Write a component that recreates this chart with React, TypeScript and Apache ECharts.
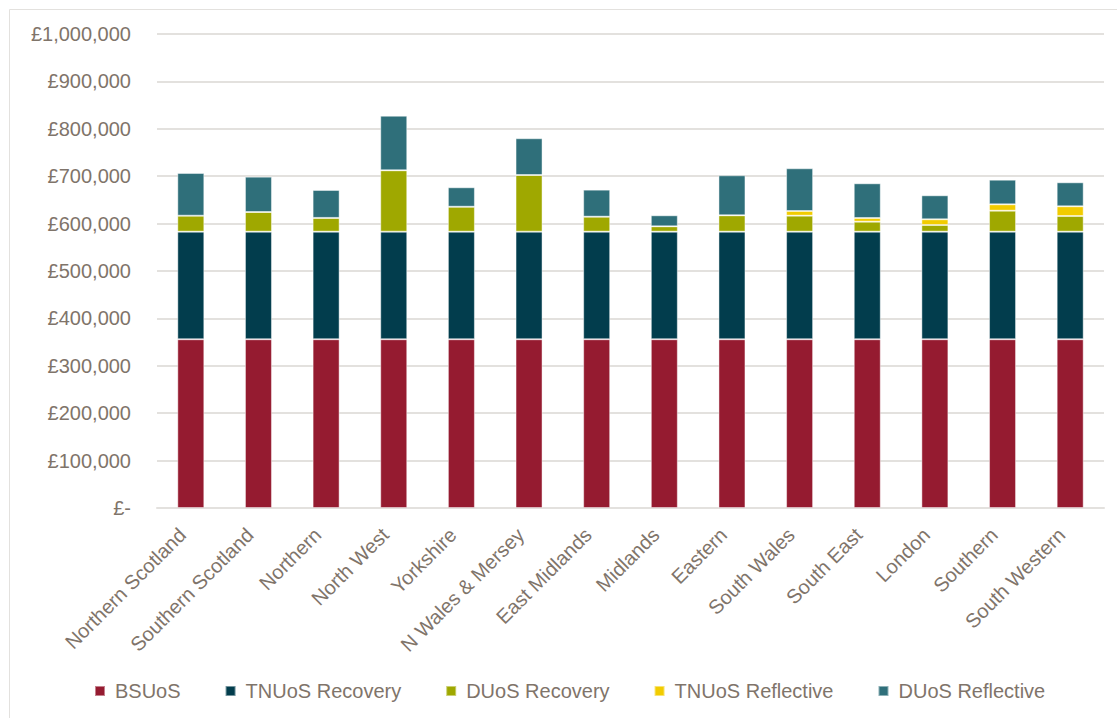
import React, { useEffect, useRef } from "react";
import * as echarts from "echarts";

const regions = [
  "Northern Scotland",
  "Southern Scotland",
  "Northern",
  "North West",
  "Yorkshire",
  "N Wales & Mersey",
  "East Midlands",
  "Midlands",
  "Eastern",
  "South Wales",
  "South East",
  "London",
  "Southern",
  "South Western",
];

const bsuos = [356000, 356000, 356000, 356000, 356000, 356000, 356000, 356000, 356000, 356000, 356000, 356000, 356000, 356000];
const tnuosRecovery = [227000, 227000, 227000, 227000, 227000, 227000, 227000, 227000, 227000, 227000, 227000, 227000, 227000, 227000];
const duosRecovery = [33700, 41500, 29000, 129400, 52600, 119500, 31600, 11300, 34500, 33700, 21000, 14000, 44200, 33000];
const tnuosReflective = [0, 0, 0, 0, 0, 0, 0, 0, 0, 9900, 7800, 12100, 13500, 20500];
const duosReflective = [90000, 74500, 58900, 115200, 41000, 77500, 57000, 23200, 84400, 90100, 73200, 50600, 51900, 50600];

const seriesDefs = [
  { name: "BSUoS", data: bsuos, color: "#951B30" },
  { name: "TNUoS Recovery", data: tnuosRecovery, color: "#023D4D" },
  { name: "DUoS Recovery", data: duosRecovery, color: "#9FA800" },
  { name: "TNUoS Reflective", data: tnuosReflective, color: "#F2CC00" },
  { name: "DUoS Reflective", data: duosReflective, color: "#2F6F7A" },
];

const TEXT = "#7F746A";
const FONT = "'Liberation Sans', Arial, sans-serif";

function formatPounds(v: number): string {
  if (v === 0) return "£-";
  return "£" + v.toLocaleString("en-GB");
}

export default function App() {
  const ref = useRef<HTMLDivElement>(null);

  useEffect(() => {
    if (!ref.current) return;
    const chart = echarts.init(ref.current, undefined, { renderer: "svg" });
    chart.setOption({
      animation: false,
      backgroundColor: "#ffffff",
      textStyle: { fontFamily: FONT },
      graphic: [
        {
          type: "line",
          shape: { x1: 9.5, y1: 9.5, x2: 1117, y2: 9.5 },
          style: { stroke: "#E3E1DE", lineWidth: 1 },
          silent: true,
        },
        {
          type: "line",
          shape: { x1: 9.5, y1: 9.5, x2: 9.5, y2: 718 },
          style: { stroke: "#E3E1DE", lineWidth: 1 },
          silent: true,
        },
      ],
      grid: { left: 157, right: 13, top: 34, bottom: 210, containLabel: false },
      legend: {
        bottom: 12,
        left: 89,
        icon: "rect",
        itemWidth: 10,
        itemHeight: 10,
        itemGap: 44,
        textStyle: { color: TEXT, fontSize: 20, fontFamily: FONT, padding: [0, 0, 0, 5] },
        data: seriesDefs.map((s) => s.name),
      },
      xAxis: {
        type: "category",
        data: regions,
        axisLine: { show: true, lineStyle: { color: "#E3E1DE", width: 2 } },
        axisTick: { show: false },
        axisLabel: {
          rotate: 45,
          interval: 0,
          margin: 15,
          padding: [0, 12, 0, 0],
          color: TEXT,
          fontSize: 20,
          fontFamily: FONT,
        },
      },
      yAxis: {
        type: "value",
        min: 0,
        max: 1000000,
        interval: 100000,
        axisLine: { show: false },
        axisTick: { show: false },
        splitLine: { lineStyle: { color: "#E3E1DE", width: 2 } },
        axisLabel: {
          margin: 26,
          color: TEXT,
          fontSize: 20,
          fontFamily: FONT,
          formatter: (v: number) => formatPounds(v),
        },
      },
      series: seriesDefs.map((s) => ({
        name: s.name,
        type: "bar",
        stack: "total",
        data: s.data,
        barWidth: 27,
        itemStyle: {
          color: s.color,
          borderColor: "rgba(255,255,255,0.45)",
          borderWidth: 1,
        },
      })),
    });
    return () => chart.dispose();
  }, []);

  return (
    <div
      ref={ref}
      style={{ position: "absolute", left: 0, top: 0, width: 1117, height: 718 }}
    />
  );
}
